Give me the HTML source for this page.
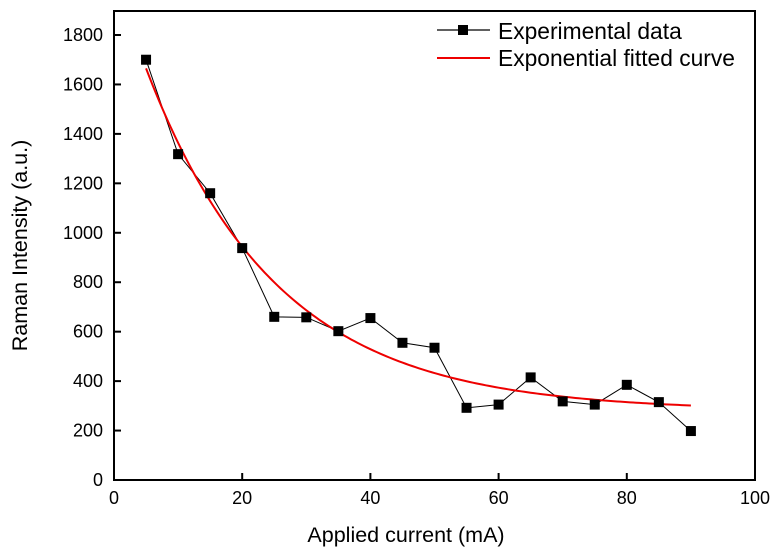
<!DOCTYPE html>
<html><head><meta charset="utf-8"><style>
body{margin:0;background:#fff;}
svg{display:block;font-family:"Liberation Sans",Arial,sans-serif;}
</style></head><body>
<svg id="chart" width="778" height="556"></svg>
<script>
const xValues=[5,10,15,20,25,30,35,40,45,50,55,60,65,70,75,80,85,90];
const yValues=[1700,1318,1160,938,660,658,602,655,555,535,292,305,415,318,305,385,315,198];
const fitParams=[280,1385,20.4]; // y0, A, t (curve starts at x=5)
const fitRange=[5,90];
const xTicks=[0,20,40,60,80,100];
const yTicks=[0,200,400,600,800,1000,1200,1400,1600,1800];
const L=114,R=755,T=11,B=480;
const sx=v=>L+(v-0)/100*(R-L);
const sy=v=>B-v/1800*(B-35);
const svg=document.getElementById('chart');
const NS='http://www.w3.org/2000/svg';
function mk(tag,attrs,parent){const e=document.createElementNS(NS,tag);for(const k in attrs)e.setAttribute(k,attrs[k]);(parent||svg).appendChild(e);return e;}
let frame=mk('rect',{x:L,y:T,width:R-L,height:B-T,fill:'none',stroke:'#000','stroke-width':2});


xTicks.forEach(t=>{
 let l=mk('line',{x1:sx(t),x2:sx(t),y1:B,y2:B-7,stroke:'#000','stroke-width':2});
 
 
 let tx=mk('text',{x:sx(t),y:B+24,'text-anchor':'middle','font-size':18});tx.textContent=t;
 
 
});
yTicks.forEach(t=>{
 let l=mk('line',{x1:L,x2:L+7,y1:sy(t),y2:sy(t),stroke:'#000','stroke-width':2});
 
 
 let tx=mk('text',{x:L-11,y:sy(t)+6,'text-anchor':'end','font-size':18});tx.textContent=t;
 
 
});
let xt=mk('text',{x:406,y:542,'text-anchor':'middle','font-size':21.5});xt.textContent='Applied current (mA)';


let yt=mk('text',{x:0,y:0,'text-anchor':'middle','font-size':21.5,transform:`translate(27,${(T+B)/2}) rotate(-90)`});yt.textContent='Raman Intensity (a.u.)';


let pts=xValues.map((x,i)=>sx(x)+','+sy(yValues[i])).join(' ');
let pl=mk('polyline',{points:pts,fill:'none',stroke:'#000','stroke-width':1});


let cp=[];
for(let x=fitRange[0];x<=fitRange[1];x+=0.5){const y=fitParams[0]+fitParams[1]*Math.exp(-(x-5)/fitParams[2]);cp.push(sx(x)+','+sy(y));}
let fc=mk('polyline',{points:cp.join(' '),fill:'none',stroke:'#e00','stroke-width':2});


xValues.forEach((x,i)=>{
 let r=mk('rect',{x:sx(x)-5,y:sy(yValues[i])-5,width:10,height:10,fill:'#000'});
 
 
});
let l1=mk('line',{x1:437,x2:490,y1:30,y2:30,stroke:'#000','stroke-width':1.2});


let lm=mk('rect',{x:458,y:25,width:10,height:10,fill:'#000'});


let lt1=mk('text',{x:498,y:39,'font-size':22.8});lt1.textContent='Experimental data';


let l2=mk('line',{x1:437,x2:490,y1:58,y2:58,stroke:'#e00','stroke-width':2});


let lt2=mk('text',{x:498,y:66,'font-size':22.8});lt2.textContent='Exponential fitted curve';


</script>
</body></html>
